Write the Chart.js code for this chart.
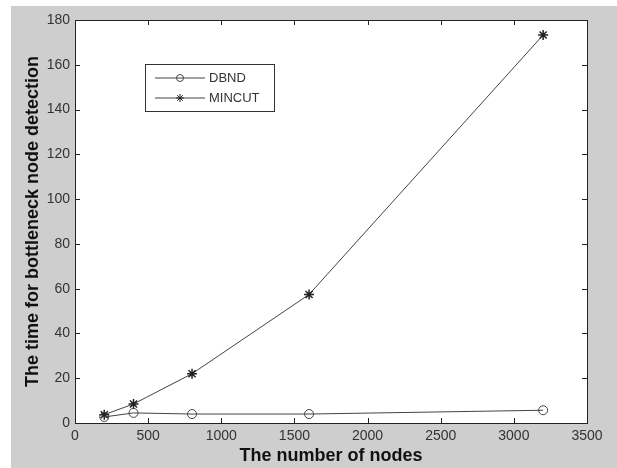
<!DOCTYPE html>
<html>
<head>
<meta charset="utf-8">
<script src="https://cdn.jsdelivr.net/npm/chart.js@4/dist/chart.umd.min.js"></script>
<style>
  html, body { margin: 0; padding: 0; background: #fff; }
  #wrap { width: 617px; height: 468px; }
</style>
</head>
<body>
<div id="wrap"><canvas id="lineChart" width="617" height="468"></canvas></div>
<script>
// Data
const nodes = [200, 400, 800, 1600, 3200];
const dbnd = [2.7, 4.5, 4.0, 4.0, 5.7];
const mincut = [3.7, 8.5, 22, 57.4, 173.3];
const seriesNames = ['DBND', 'MINCUT'];
const xTicks = [0, 500, 1000, 1500, 2000, 2500, 3000, 3500];
const yTicks = [0, 20, 40, 60, 80, 100, 120, 140, 160, 180];

const lineColor = '#444';
const tickFont = { family: 'Liberation Sans', size: 14 };

function drawStar(ctx, x, y, r) {
    ctx.beginPath();
    ctx.moveTo(x - r, y); ctx.lineTo(x + r, y);
    ctx.moveTo(x, y - r); ctx.lineTo(x, y + r);
    const d = r * 0.7;
    ctx.moveTo(x - d, y - d); ctx.lineTo(x + d, y + d);
    ctx.moveTo(x - d, y + d); ctx.lineTo(x + d, y - d);
    ctx.stroke();
}

// Grey figure background, white axes box, inward ticks and the legend box
const matlabLook = {
    id: 'matlabLook',
    beforeDraw(chart) {
        const ctx = chart.ctx;
        const a = chart.chartArea;
        ctx.save();
        ctx.fillStyle = '#fff';
        ctx.fillRect(0, 0, chart.width, chart.height);
        ctx.fillStyle = '#cecece';
        ctx.fillRect(11, 6, chart.width - 11, chart.height - 6);
        ctx.fillStyle = '#fff';
        ctx.fillRect(a.left, a.top, a.right - a.left, a.bottom - a.top);
        ctx.restore();
    },
    afterDraw(chart) {
        const ctx = chart.ctx;
        const a = chart.chartArea;
        const xs = chart.scales.x;
        const ys = chart.scales.y;
        ctx.save();
        ctx.strokeStyle = '#222';
        ctx.lineWidth = 1;
        ctx.strokeRect(Math.round(a.left) + 0.5, Math.round(a.top) + 0.5,
            Math.round(a.right - a.left), Math.round(a.bottom - a.top));
        ctx.beginPath();
        xTicks.forEach(v => {
            const px = Math.round(xs.getPixelForValue(v)) + 0.5;
            ctx.moveTo(px, a.bottom); ctx.lineTo(px, a.bottom - 5);
            ctx.moveTo(px, a.top); ctx.lineTo(px, a.top + 5);
        });
        yTicks.forEach(v => {
            const py = Math.round(ys.getPixelForValue(v)) + 0.5;
            ctx.moveTo(a.left, py); ctx.lineTo(a.left + 5, py);
            ctx.moveTo(a.right, py); ctx.lineTo(a.right - 5, py);
        });
        ctx.stroke();

        // legend
        const bx = 145.5, by = 64.5, bw = 129, bh = 47;
        ctx.fillStyle = '#fff';
        ctx.fillRect(bx, by, bw, bh);
        ctx.strokeStyle = '#333';
        ctx.strokeRect(bx, by, bw, bh);
        ctx.font = '13px "Liberation Sans"';
        ctx.textBaseline = 'middle';
        seriesNames.forEach((name, i) => {
            const y = 78 + i * 20;
            ctx.strokeStyle = lineColor;
            ctx.beginPath();
            ctx.moveTo(155, y); ctx.lineTo(205, y);
            ctx.stroke();
            if (i === 0) {
                ctx.beginPath();
                ctx.arc(180, y, 3.5, 0, Math.PI * 2);
                ctx.stroke();
            } else {
                ctx.strokeStyle = '#222';
                drawStar(ctx, 180, y, 4);
            }
            ctx.fillStyle = '#333';
            ctx.fillText(name, 209, y);
        });
        ctx.restore();
    }
};

const ctx = document.getElementById('lineChart').getContext('2d');
new Chart(ctx, {
    type: 'line',
    data: {
        datasets: [{
            label: seriesNames[0],
            data: nodes.map((n, i) => ({ x: n, y: dbnd[i] })),
            borderColor: lineColor,
            borderWidth: 1,
            pointStyle: 'circle',
            pointRadius: 4.5,
            pointBorderColor: '#444',
            pointBackgroundColor: 'rgba(0,0,0,0)',
            pointBorderWidth: 1
        }, {
            label: seriesNames[1],
            data: nodes.map((n, i) => ({ x: n, y: mincut[i] })),
            borderColor: lineColor,
            borderWidth: 1,
            pointStyle: 'star',
            pointRadius: 5,
            pointBorderColor: '#222',
            pointBorderWidth: 1.5
        }]
    },
    options: {
        responsive: false,
        animation: false,
        layout: { padding: { left: 20, top: 20, right: 30, bottom: 0 } },
        plugins: {
            legend: { display: false },
            tooltip: { enabled: false }
        },
        scales: {
            x: {
                type: 'linear',
                min: 0,
                max: 3500,
                afterBuildTicks: scale => { scale.ticks = xTicks.map(v => ({ value: v })); },
                afterFit: scale => { scale.height = 45; },
                grid: { display: false, drawTicks: false },
                border: { display: false },
                ticks: { color: '#333', font: tickFont, padding: 5, maxRotation: 0, callback: v => String(v) },
                title: {
                    display: true,
                    text: 'The number of nodes',
                    color: '#111',
                    font: { family: 'Liberation Sans', size: 18, weight: 'bold' },
                    padding: { top: 0, bottom: 1 }
                }
            },
            y: {
                min: 0,
                max: 180,
                afterBuildTicks: scale => { scale.ticks = yTicks.map(v => ({ value: v })); },
                afterFit: scale => { scale.width = 55; },
                grid: { display: false, drawTicks: false },
                border: { display: false },
                ticks: { color: '#333', font: tickFont, padding: 5, callback: v => String(v) },
                title: {
                    display: true,
                    text: 'The time for bottleneck node detection',
                    color: '#111',
                    font: { family: 'Liberation Sans', size: 18, weight: 'bold' },
                    padding: { top: 2, bottom: 0 }
                }
            }
        }
    },
    plugins: [matlabLook]
});
</script>
</body>
</html>
